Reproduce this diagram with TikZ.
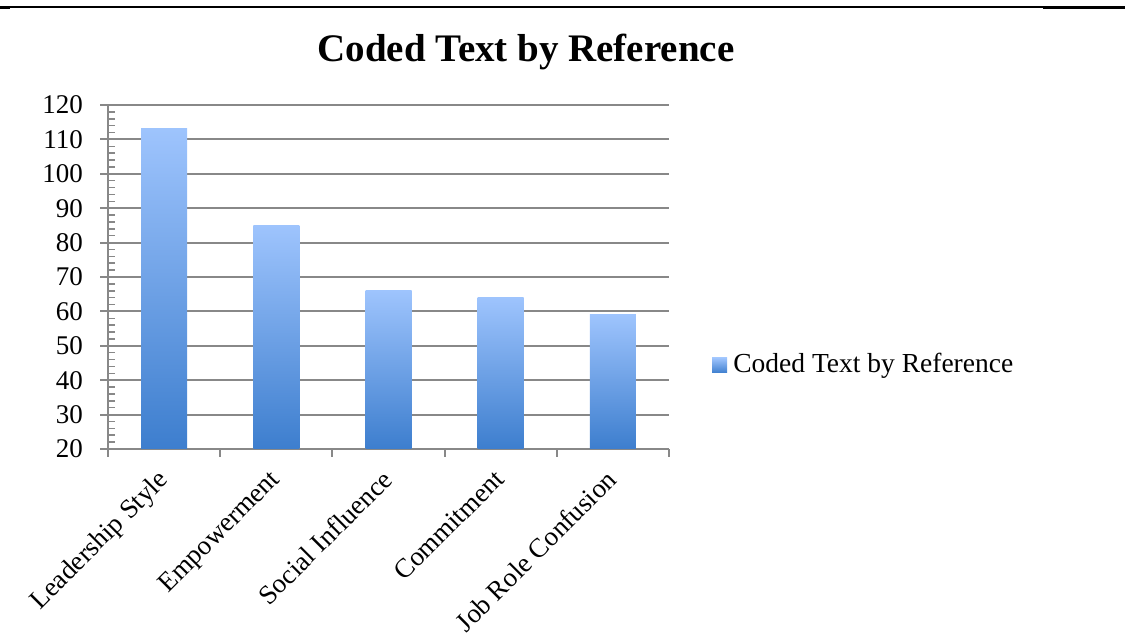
\documentclass[tikz,border=0pt]{standalone}
\usepackage{fontspec}
\setmainfont{Liberation Serif}

\definecolor{barlight}{RGB}{158,196,253}
\definecolor{bardark}{RGB}{61,126,206}
\definecolor{axisgray}{RGB}{136,136,136}

\def\ystep{3.44}
\tikzstyle{grid line} = [draw, line width=2pt, axisgray]
\tikzstyle{minor tick} = [draw, line width=1.5pt, axisgray]
\tikzstyle{coded bar} = [inner sep=0pt, minimum width=46pt, top color=barlight, bottom color=bardark]
\tikzstyle{tick label} = [inner sep=0pt, anchor=east, font=\fontsize{27}{31}\selectfont]
\tikzstyle{cat label} = [inner sep=0pt, anchor=north east, rotate=45, font=\fontsize{27}{31}\selectfont]

\begin{document}
\begin{tikzpicture}[x=1pt,y=1pt]
       \useasboundingbox (0,0) rectangle (1125,637);
       % rule across the top
       \draw[line width=1.2pt] (10,630) -- (1043,630);
       \draw[line width=2.5pt] (0,629.5) -- (10,629.5);
       \draw[line width=2.5pt] (1043,629.5) -- (1125,629.5);

       \node[font=\bfseries\fontsize{39}{45}\selectfont] (title) at (526,585) {Coded Text by Reference};

       \begin{scope}[shift={(108,119.2)}, x=112.2pt, y=\ystep pt]
           \foreach \v in {20,30,...,120} {
               \draw[grid line] (0,\v) ++(-8pt,0) -- (5,\v);
               \node[tick label] (y\v) at ([xshift=-25pt]0,\v) {\v};
           }
           \foreach \v in {20,22,...,120} {
               \draw[minor tick] (0,\v) -- ++(7pt,0);
           }
           \draw[grid line] (0,20) -- (0,120);
           \foreach \i in {0,...,5} {
               \draw[grid line] (\i,20) -- ++(0,-8pt);
           }
           \foreach \i/\v/\name/\text in {1/113/lead/Leadership Style, 2/85/emp/Empowerment, 3/66/social/Social Influence, 4/64/commit/Commitment, 5/59/jobrole/Job Role Confusion} {
               \pgfmathsetmacro\h{(\v-20)*\ystep}
               \node[coded bar, anchor=south, minimum height=\h pt] (\name) at (\i-0.5,20) {};
               \node[cat label] (\name-label) at ([xshift=-8pt,yshift=-19pt]\name.south) {\text};
           }
       \end{scope}

       % legend
       \node[coded bar, minimum width=15pt, minimum height=15pt] (key) at (719.5,271.5) {};
       \node[inner sep=0pt, anchor=west, font=\fontsize{27.5}{32}\selectfont] (key-text) at ([xshift=6pt]key.east) {Coded Text by Reference};
\end{tikzpicture}
\end{document}
